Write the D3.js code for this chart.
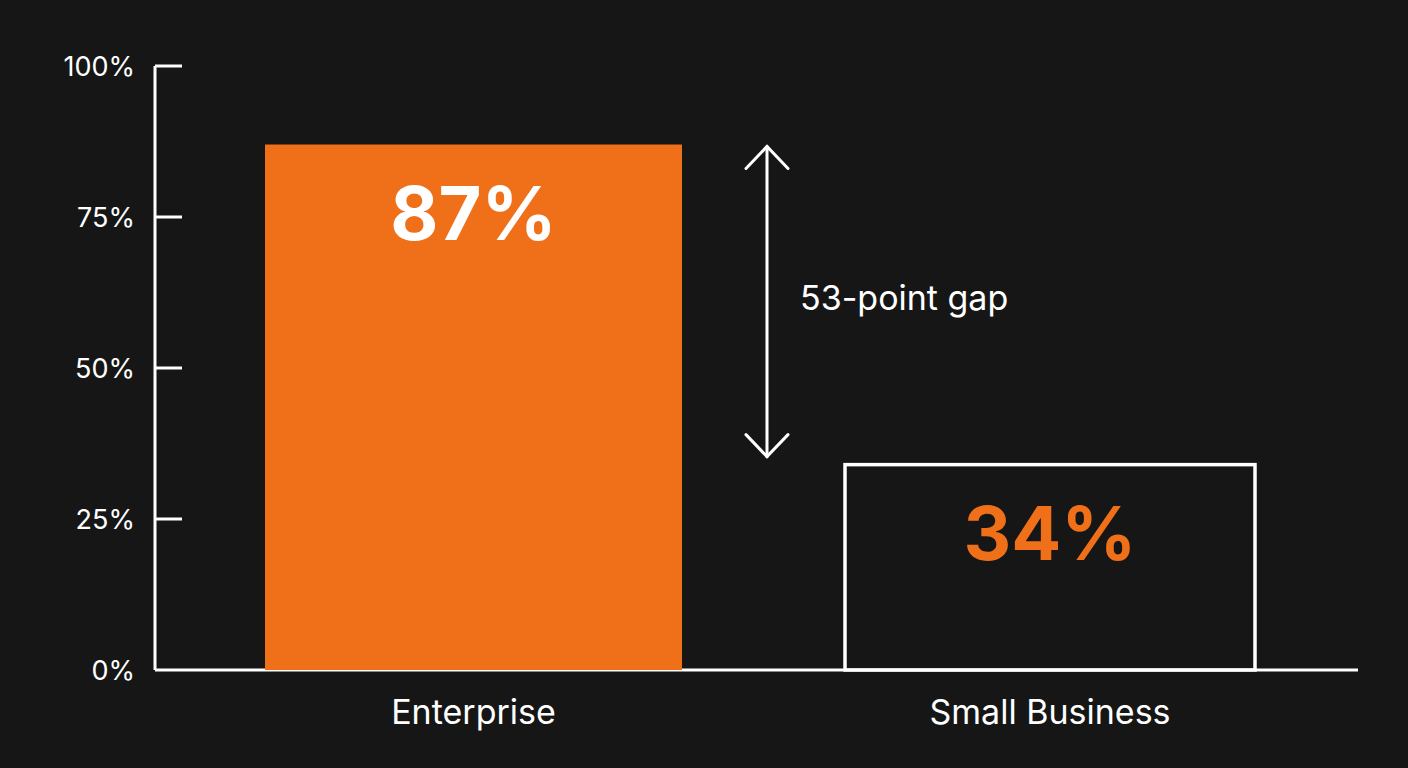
<!DOCTYPE html>
<html>
  <head>
    <meta charset="utf-8">
    <script src="https://d3js.org/d3.v7.min.js"></script>
    <style>
      body { margin: 0; background: #161616; }
      svg { display: block; font-family: Inter, "Noto Sans", sans-serif; }
    </style>
  </head>
  <body>
    <svg id="chart" width="1408" height="768"></svg>
    <script>
      // data
      const categories = ["Enterprise", "Small Business"];
      const values = [87, 34];
      const tickValues = [0, 25, 50, 75, 100];
      const gapLabel = "53-point gap";

      const svg = d3.select("#chart");
      svg.append("rect").attr("width", 1408).attr("height", 768).attr("fill", "#161616");

      const orange = "#f07019";
      const y = d3.scaleLinear().domain([0, 100]).range([670, 66]);
      const x = d3.scaleOrdinal().domain(categories).range([[265, 682], [845, 1255]]);

      // axis
      const axis = svg.append("g").attr("stroke", "#fff").attr("stroke-width", 3);
      axis.append("line").attr("x1", 155).attr("x2", 155).attr("y1", y(100)).attr("y2", y(0));
      axis.append("line").attr("x1", 155).attr("x2", 1358).attr("y1", y(0)).attr("y2", y(0));
      axis.selectAll(".tick").data(tickValues.filter(d => d > 0)).join("line")
        .attr("x1", 155).attr("x2", 182).attr("y1", d => y(d)).attr("y2", d => y(d));
      svg.selectAll(".tickLabel").data(tickValues).join("text")
        .attr("x", 135).attr("y", d => y(d)).attr("dy", "0.36em")
        .attr("text-anchor", "end").attr("fill", "#fff").attr("font-size", 27)
        .text(d => d + "%");

      // bars
      categories.forEach(function(c, i) {
        const [x0, x1] = x(c);
        const filled = i == 0;
        svg.append("rect")
          .attr("x", x0).attr("width", x1 - x0)
          .attr("y", y(values[i])).attr("height", y(0) - y(values[i]))
          .attr("fill", filled ? orange : "none")
          .attr("stroke", filled ? "none" : "#fff").attr("stroke-width", 3.5);
        svg.append("text")
          .attr("x", (x0 + x1) / 2).attr("y", filled ? 240 : 560)
          .attr("text-anchor", "middle").attr("font-weight", 700).attr("font-size", 74)
          .attr("fill", filled ? "#fff" : orange)
          .text(values[i] + "%");
        svg.append("text")
          .attr("x", (x0 + x1) / 2).attr("y", 724)
          .attr("text-anchor", "middle").attr("font-size", 34).attr("fill", "#fff")
          .text(c);
      });

      // gap arrow
      const ax = 767, arrowTop = y(values[0]) + 2, arrowBot = y(values[1]) - 8;
      const arrow = svg.append("g").attr("stroke", "#fff").attr("stroke-width", 3)
        .attr("fill", "none").attr("stroke-linecap", "round");
      arrow.append("line").attr("x1", ax).attr("x2", ax).attr("y1", arrowTop).attr("y2", arrowBot);
      arrow.append("path").attr("d", `M${ax - 21},${arrowTop + 22}L${ax},${arrowTop}L${ax + 21},${arrowTop + 22}`);
      arrow.append("path").attr("d", `M${ax - 21},${arrowBot - 22}L${ax},${arrowBot}L${ax + 21},${arrowBot - 22}`);
      svg.append("text").attr("x", 800).attr("y", 310).attr("font-size", 34).attr("fill", "#fff")
        .text(gapLabel);
    </script>
  </body>
</html>
